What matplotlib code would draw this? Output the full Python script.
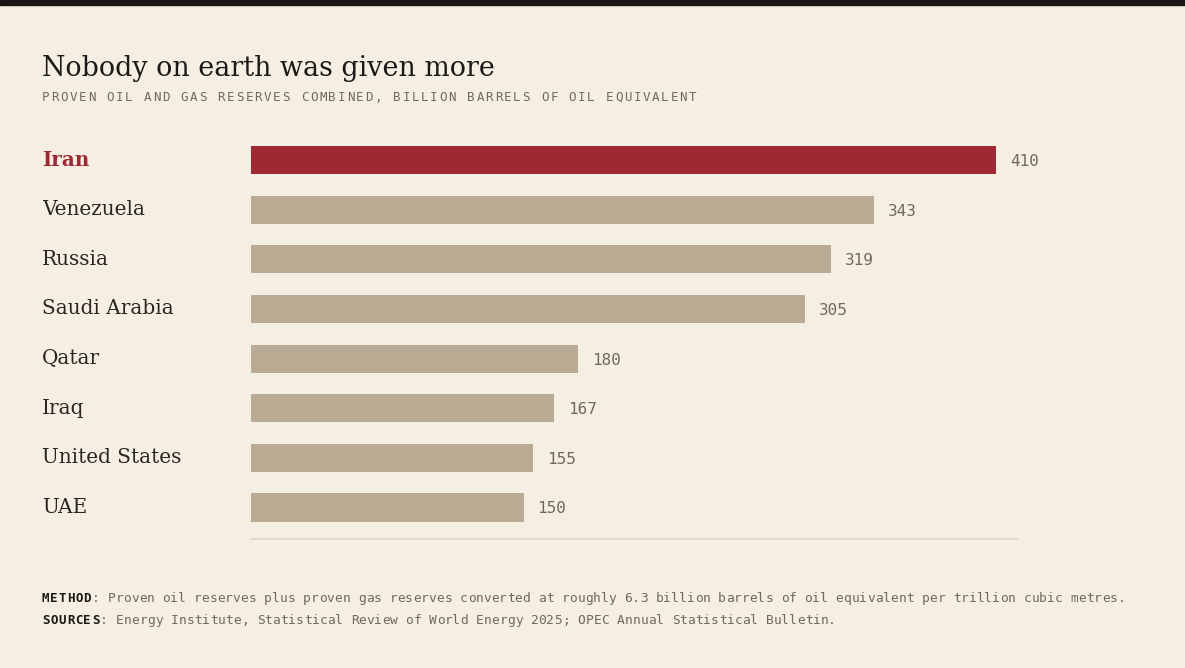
import matplotlib
matplotlib.use("Agg")
import matplotlib.pyplot as plt
import matplotlib.transforms as mtransforms

# data
countries = ["Iran", "Venezuela", "Russia", "Saudi Arabia", "Qatar", "Iraq", "United States", "UAE"]
reserves = [410, 343, 319, 305, 180, 167, 155, 150]
highlight = "Iran"

title = "Nobody on earth was given more"
subtitle = "PROVEN OIL AND GAS RESERVES COMBINED, BILLION BARRELS OF OIL EQUIVALENT"
method_note = ": Proven oil reserves plus proven gas reserves converted at roughly 6.3 billion barrels of oil equivalent per trillion cubic metres."
sources_note = ": Energy Institute, Statistical Review of World Energy 2025; OPEC Annual Statistical Bulletin."

# colours
bg = "#f5eee2"
tan = "#baab94"
red = "#9e2933"
ink = "#2a2520"
grey = "#70685f"

W, H = 1185, 668
fig = plt.figure(figsize=(W / 100, H / 100), dpi=100, facecolor=bg)

# dark strip on top
fig.patches.append(plt.Rectangle((0, 1 - 5 / H), 1, 5 / H, transform=fig.transFigure,
                                 color="#1a1614", zorder=5))

ax = fig.add_axes([251 / W, 1 - 539 / H, (1017 - 251) / W, (539 - 135.2) / H])
ax.set_facecolor(bg)

ypos = list(range(len(countries)))
colors = [red if c == highlight else tan for c in countries]
ax.barh(ypos, reserves, height=0.565, color=colors)
ax.set_ylim(len(countries) - 1 + 0.635, -0.5)
ax.set_xlim(0, 421.6)

for s in ["top", "right", "left"]:
    ax.spines[s].set_visible(False)
ax.spines["bottom"].set_color("#e2d9ca")
ax.spines["bottom"].set_linewidth(1.5)
ax.set_xticks([])
ax.set_yticks([])

# value labels
for y, v in zip(ypos, reserves):
    ax.annotate(str(v), (v, y), xytext=(14, -1.5), textcoords="offset pixels",
                va="center", ha="left", fontsize=11.5, family="DejaVu Sans Mono", color=grey)

# category labels
blend = mtransforms.blended_transform_factory(fig.transFigure, ax.transData)
for y, c in zip(ypos, countries):
    hl = c == highlight
    ax.text(42 / W, y, c, transform=blend, va="center", ha="left", fontsize=14.4,
            family="DejaVu Serif", color=red if hl else ink,
            fontweight="bold" if hl else "normal")

# title
fig.text(42 / W, 1 - 76 / H, title, fontsize=19.4, family="DejaVu Serif", color="#1c1815",
         va="baseline", ha="left")


def tracked(x_px, y_px, s, step_px, **kw):
    for i, ch in enumerate(s):
        if ch != " ":
            fig.text((x_px + i * step_px) / W, 1 - y_px / H, ch, va="baseline", ha="left", **kw)


# subtitle with letter spacing
tracked(42, 101, subtitle, 9.24, fontsize=9, family="DejaVu Sans Mono", color=grey)

# footer
hstep = 8.3
bstep = 7.83
for row, (head, body) in enumerate([("METHOD", method_note), ("SOURCES", sources_note)]):
    yp = 602 + row * 22
    tracked(42, yp, head, hstep, fontsize=9.0, family="DejaVu Sans Mono", fontweight="bold",
            color="#1c1815")
    tracked(42 + len(head) * hstep, yp, body, bstep, fontsize=9.3,
            family="DejaVu Sans Mono", color=grey)

fig.savefig("out.png", dpi=100, facecolor=bg)
